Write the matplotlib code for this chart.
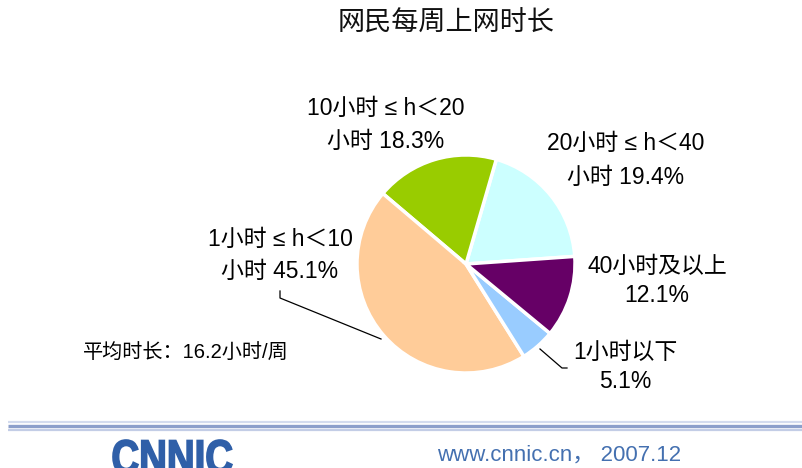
import matplotlib
matplotlib.use("Agg")
from matplotlib import pyplot as plt
from matplotlib.textpath import TextPath
from matplotlib.font_manager import FontProperties
from matplotlib.patches import PathPatch
from matplotlib.transforms import Affine2D

W, H = 803, 468

# data, counterclockwise from the right
categories = ["20小时≤h＜40小时", "10小时≤h＜20小时", "1小时≤h＜10小时", "1小时以下", "40小时及以上"]
shares = [19.4, 18.3, 45.1, 5.1, 12.1]
colors = ["#ccffff", "#99cc00", "#ffcc99", "#99ccff", "#660066"]
label_top = ["20小时 ≤ h＜40", "10小时 ≤ h＜20", "1小时 ≤ h＜10", "1小时以下", "40小时及以上"]
label_bottom = ["小时 ", "小时 ", "小时 ", "", ""]
title = "网民每周上网时长"
note = "平均时长：16.2小时/周"
footer = "www.cnnic.cn， 2007.12"

FONT = ["Liberation Sans", "Noto Sans CJK SC", "DejaVu Sans"]
plt.rcParams["font.family"] = FONT


def Y(py):
    return H - py


fig = plt.figure(figsize=(W / 100, H / 100), dpi=100)
ax = fig.add_axes([0, 0, 1, 1])

ax.pie(shares, colors=colors, startangle=4, counterclock=True,
       center=(466, Y(264)), radius=109, explode=[0.015] * len(shares),
       wedgeprops=dict(edgecolor="white", linewidth=2.5))
ax.set_xlim(0, W)
ax.set_ylim(0, H)
ax.set_aspect("auto")
ax.axis("off")

# label positions (pixel centres of the two lines)
label_pos = [(626, 143, 177), (386, 108, 141), (280, 239, 271), (625, 352, 382), (657, 266, 296)]
for top, bottom, v, (x, y1, y2) in zip(label_top, label_bottom, shares, label_pos):
    ax.text(x, Y(y1), top, ha="center", va="center", fontsize=16.5, color="black")
    ax.text(x, Y(y2), f"{bottom}{v:.1f}%", ha="center", va="center", fontsize=16.5, color="black")

# leader lines
ax.plot([280, 280, 381], [Y(291), Y(298), Y(339)], color="black", lw=0.9)
ax.plot([540, 562, 567], [Y(349), Y(368), Y(368)], color="black", lw=0.9)

ax.text(446, Y(23), title, ha="center", va="center", fontsize=19.5,
        family=["Noto Sans CJK SC"], color="#111111")
ax.text(83, Y(353), note, ha="left", va="center", fontsize=14.5, color="black")

# footer band
ax.plot([8, W], [Y(422), Y(422)], color="#d3dbee", lw=1.6, solid_capstyle="butt")
ax.plot([8, W], [Y(426), Y(426)], color="#8c9fcb", lw=2.4, solid_capstyle="butt")
ax.plot([8, W], [Y(429.5), Y(429.5)], color="#c3cde6", lw=1.6, solid_capstyle="butt")

ax.text(437, Y(455), footer, ha="left", va="center", fontsize=16, color="#4470b0")

# CNNIC logo squeezed into its box
tp = TextPath((0, 0), "CNNIC", size=40, prop=FontProperties(family="Liberation Sans", weight="bold"))
bb = tp.get_extents()
sx = (232 - 113) / bb.width
sy = 34 / bb.height
tr = Affine2D().translate(-bb.x0, -bb.y0).scale(sx, sy).translate(113, Y(474))
ax.add_patch(PathPatch(tr.transform_path(tp), facecolor="#2f5fa8", edgecolor="#2f5fa8", lw=1.2))

fig.savefig("out.png", dpi=100)
